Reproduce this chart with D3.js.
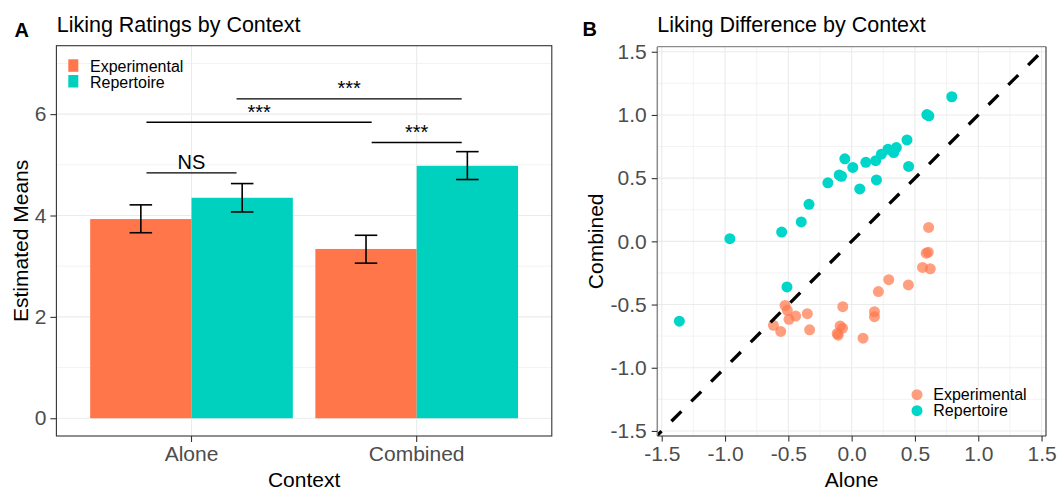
<!DOCTYPE html>
<html>
<head>
<meta charset="utf-8">
<script src="https://cdn.jsdelivr.net/npm/d3@7"></script>
<style>
	body { margin: 0; background: #fff; }
	svg text { font-family: "Liberation Sans", Arial, sans-serif; }
</style>
</head>
<body>
<div id="root"></div>
<script>
const CONTEXTS = ["Alone", "Combined"]
const GROUPS = ["Experimental", "Repertoire"]
const COLOR = { Experimental: "#FF764A", Repertoire: "#00D1BF" }
const POINT_COLOR = { Experimental: "#FF764A", Repertoire: "#00D5C9" }

// panel A: estimated means and error bar ends, one value per context
const expMean = [3.93, 3.34]
const expLow = [3.66, 3.06]
const expHigh = [4.21, 3.61]
const repMean = [4.35, 4.98]
const repLow = [4.07, 4.71]
const repHigh = [4.63, 5.26]
const barTicks = [0, 2, 4, 6]
const barMinor = [1, 3, 5, 7]

// significance brackets (x in category units, 1 = Alone, 2 = Combined)
const sigLabels = ["NS", "***", "***", "***"]
const sigStart = [0.8, 0.8, 1.2, 1.8]
const sigEnd = [1.2, 1.8, 2.2, 2.2]
const sigY = [4.84, 5.84, 6.30, 5.44]

// panel B: liking differences
const expAlone = [0.608, 0.589, 0.605, 0.560, 0.621, 0.293, 0.448, 0.211, 0.180, 0.180, 0.090, -0.070,
	-0.072, -0.091, -0.114, -0.106, -0.350, -0.332, -0.442, -0.495, -0.508, -0.526, -0.560, -0.618]
const expCombined = [0.110, -0.094, -0.086, -0.206, -0.217, -0.303, -0.345, -0.397, -0.557, -0.596, -0.766, -0.517,
	-0.687, -0.669, -0.729, -0.742, -0.572, -0.700, -0.591, -0.617, -0.546, -0.507, -0.713, -0.664]
const repAlone = [-1.361, -0.962, -0.553, -0.511, -0.398, -0.337, -0.188, -0.098, -0.080, -0.054, 0.009, 0.064,
	0.112, 0.190, 0.196, 0.235, 0.287, 0.332, 0.353, 0.437, 0.450, 0.594, 0.610, 0.791]
const repCombined = [-0.632, 0.021, 0.073, -0.361, 0.154, 0.293, 0.463, 0.525, 0.515, 0.653, 0.585, 0.415,
	0.625, 0.638, 0.486, 0.690, 0.729, 0.703, 0.742, 0.802, 0.593, 1.003, 0.993, 1.144]
const diffTicks = [-1.5, -1, -0.5, 0, 0.5, 1, 1.5]
const diffMinor = [-1.25, -0.75, -0.25, 0.25, 0.75, 1.25]

const svg = d3.select('#root')
	.append('svg')
	.attr('width', 1059)
	.attr('height', 489)

createBarPanel({ svg })
createScatterPanel({ svg })

function styleAxis(g, size) {
	g.attr('font-family', null)
		.attr('font-size', size)
		.attr('color', '#333')
	g.select('.domain').remove()
	g.selectAll('.tick text').attr('fill', '#4d4d4d')
	g.selectAll('.tick line').attr('stroke-width', 1.1)
}

function createBarPanel({ svg }) {
	const left = 56.4, right = 551.8, top = 45.7, bottom = 436

	const x = d3.scaleBand()
		.domain(CONTEXTS)
		.range([left, right])
		.paddingInner(0.1)
		.paddingOuter(0.15)
	const xGroup = d3.scaleBand()
		.domain(GROUPS)
		.range([0, x.bandwidth()])
	const y = d3.scaleLinear()
		.domain([-0.35, 7.35])
		.range([bottom, top])
	const half = x.bandwidth() / 2
	const xUnit = d3.scaleLinear()
		.domain([1, 2])
		.range([x(CONTEXTS[0]) + half, x(CONTEXTS[1]) + half])

	const rows = CONTEXTS.flatMap((c, i) => [
		{ context: c, group: "Experimental", mean: expMean[i], low: expLow[i], high: expHigh[i] },
		{ context: c, group: "Repertoire", mean: repMean[i], low: repLow[i], high: repHigh[i] },
	])

	const grid = svg.append('g').attr('stroke', '#ebebeb')
	grid.selectAll('.minor')
		.data(barMinor)
		.enter().append('line')
		.attr('x1', left).attr('x2', right)
		.attr('y1', d => y(d)).attr('y2', d => y(d))
		.attr('stroke-width', 0.6)
	grid.selectAll('.major')
		.data(barTicks)
		.enter().append('line')
		.attr('x1', left).attr('x2', right)
		.attr('y1', d => y(d)).attr('y2', d => y(d))
		.attr('stroke-width', 1.1)
	grid.selectAll('.vmajor')
		.data(CONTEXTS)
		.enter().append('line')
		.attr('x1', d => x(d) + half).attr('x2', d => x(d) + half)
		.attr('y1', top).attr('y2', bottom)
		.attr('stroke-width', 1.1)

	svg.append('g')
		.selectAll('rect')
		.data(rows)
		.enter().append('rect')
		.attr('x', d => x(d.context) + xGroup(d.group))
		.attr('y', d => y(d.mean))
		.attr('width', xGroup.bandwidth())
		.attr('height', d => y(0) - y(d.mean))
		.attr('fill', d => COLOR[d.group])

	// error bars, cap 0.1 category units wide
	const cap = (xUnit(1.05) - xUnit(1))
	const err = svg.append('g')
		.attr('stroke', '#000')
		.attr('stroke-width', 1.6)
		.selectAll('g')
		.data(rows)
		.enter().append('g')
		.attr('transform', d => `translate(${x(d.context) + xGroup(d.group) + xGroup.bandwidth() / 2},0)`)
	err.append('line').attr('y1', d => y(d.low)).attr('y2', d => y(d.high))
	err.append('line').attr('x1', -cap).attr('x2', cap).attr('y1', d => y(d.low)).attr('y2', d => y(d.low))
	err.append('line').attr('x1', -cap).attr('x2', cap).attr('y1', d => y(d.high)).attr('y2', d => y(d.high))

	// significance brackets
	const sig = svg.append('g')
	sigLabels.forEach((label, i) => {
		sig.append('line')
			.attr('x1', xUnit(sigStart[i])).attr('x2', xUnit(sigEnd[i]))
			.attr('y1', y(sigY[i])).attr('y2', y(sigY[i]))
			.attr('stroke', '#000')
			.attr('stroke-width', 1.3)
		sig.append('text')
			.attr('x', xUnit((sigStart[i] + sigEnd[i]) / 2))
			.attr('y', y(sigY[i]) - 3.5)
			.attr('text-anchor', 'middle')
			.style('font-size', '20px')
			.text(label)
	})

	svg.append('rect')
		.attr('x', left).attr('y', top)
		.attr('width', right - left).attr('height', bottom - top)
		.attr('fill', 'none')
		.attr('stroke', '#333')
		.attr('stroke-width', 1.1)

	svg.append('g')
		.attr('transform', `translate(${left},0)`)
		.call(d3.axisLeft(y).tickValues(barTicks).tickSize(6).tickPadding(4))
		.call(g => styleAxis(g, 21))
	svg.append('g')
		.attr('transform', `translate(0,${bottom})`)
		.call(d3.axisBottom(x).tickSize(6).tickPadding(4))
		.call(g => styleAxis(g, 21))

	// legend (inside panel, top left)
	const legend = svg.append('g')
	GROUPS.forEach((grp, i) => {
		legend.append('rect')
			.attr('x', 68.3).attr('y', 59.3 + i * 15.7)
			.attr('width', 10).attr('height', 12.5)
			.attr('fill', COLOR[grp])
		legend.append('text')
			.attr('x', 90).attr('y', 72 + i * 15.5)
			.style('font-size', '16px')
			.text(grp)
	})

	svg.append('text')
		.attr('x', 56.7).attr('y', 31.7)
		.style('font-size', '21.5px')
		.text('Liking Ratings by Context')
	svg.append('text')
		.attr('x', 14.5).attr('y', 36.5)
		.style('font-size', '20px')
		.style('font-weight', 'bold')
		.text('A')
	svg.append('text')
		.attr('x', (left + right) / 2).attr('y', 486.5)
		.attr('text-anchor', 'middle')
		.style('font-size', '21px')
		.text('Context')
	svg.append('text')
		.attr('transform', `translate(28,${(top + bottom) / 2}) rotate(-90)`)
		.attr('text-anchor', 'middle')
		.style('font-size', '21px')
		.text('Estimated Means')
}

function createScatterPanel({ svg }) {
	const left = 657.3, right = 1046, top = 46.7, bottom = 436

	const x = d3.scaleLinear().domain([-1.535, 1.535]).range([left, right])
	const y = d3.scaleLinear().domain([-1.54, 1.54]).range([bottom, top])

	const grid = svg.append('g').attr('stroke', '#ebebeb')
	diffMinor.forEach(v => {
		grid.append('line').attr('x1', left).attr('x2', right).attr('y1', y(v)).attr('y2', y(v)).attr('stroke-width', 0.6)
		grid.append('line').attr('y1', top).attr('y2', bottom).attr('x1', x(v)).attr('x2', x(v)).attr('stroke-width', 0.6)
	})
	diffTicks.forEach(v => {
		grid.append('line').attr('x1', left).attr('x2', right).attr('y1', y(v)).attr('y2', y(v)).attr('stroke-width', 1.1)
		grid.append('line').attr('y1', top).attr('y2', bottom).attr('x1', x(v)).attr('x2', x(v)).attr('stroke-width', 1.1)
	})

	const points = [
		...expAlone.map((a, i) => ({ group: "Experimental", alone: a, combined: expCombined[i] })),
		...repAlone.map((a, i) => ({ group: "Repertoire", alone: a, combined: repCombined[i] })),
	]

	svg.append('g')
		.selectAll('circle')
		.data(points)
		.enter().append('circle')
		.attr('cx', d => x(d.alone))
		.attr('cy', d => y(d.combined))
		.attr('r', 5.5)
		.attr('fill', d => POINT_COLOR[d.group])
		.attr('fill-opacity', d => d.group === "Experimental" ? 0.7 : 1)

	// identity line
	svg.append('defs').append('clipPath')
		.attr('id', 'clipB')
		.append('rect')
		.attr('x', left).attr('y', top)
		.attr('width', right - left).attr('height', bottom - top)
	svg.append('path')
		.attr('clip-path', 'url(#clipB)')
		.attr('d', d3.line().x(d => x(d)).y(d => y(d))(x.domain()))
		.attr('fill', 'none')
		.attr('stroke', '#000')
		.attr('stroke-width', 3.3)
		.attr('stroke-dasharray', '14 14')
		.attr('stroke-dashoffset', 8)

	// panel border
	svg.append('line').attr('x1', left).attr('x2', right).attr('y1', top).attr('y2', top)
		.attr('stroke', '#8a8a8a').attr('stroke-width', 1.3)
	svg.append('line').attr('x1', left).attr('x2', left).attr('y1', top).attr('y2', bottom)
		.attr('stroke', '#8a8a8a').attr('stroke-width', 1.5)
	svg.append('line').attr('x1', right).attr('x2', right).attr('y1', top).attr('y2', bottom)
		.attr('stroke', '#333').attr('stroke-width', 1.1)
	svg.append('line').attr('x1', left).attr('x2', right).attr('y1', bottom).attr('y2', bottom)
		.attr('stroke', '#333').attr('stroke-width', 1.1)

	const fmt = d => d.toFixed(1)
	svg.append('g')
		.attr('transform', `translate(${left},0)`)
		.call(d3.axisLeft(y).tickValues(diffTicks).tickFormat(fmt).tickSize(5.6).tickPadding(5))
		.call(g => styleAxis(g, 21))
	svg.append('g')
		.attr('transform', `translate(0,${bottom})`)
		.call(d3.axisBottom(x).tickValues(diffTicks).tickFormat(fmt).tickSize(5.6).tickPadding(4))
		.call(g => styleAxis(g, 21))

	const legend = svg.append('g')
	GROUPS.forEach((grp, i) => {
		legend.append('circle')
			.attr('cx', 917).attr('cy', 394.7 + i * 16)
			.attr('r', 5.5)
			.attr('fill', POINT_COLOR[grp])
			.attr('fill-opacity', grp === "Experimental" ? 0.7 : 1)
		legend.append('text')
			.attr('x', 933.3).attr('y', 400.3 + i * 15.8)
			.style('font-size', '16px')
			.text(grp)
	})

	svg.append('text')
		.attr('x', 657.3).attr('y', 31.7)
		.style('font-size', '21.5px')
		.text('Liking Difference by Context')
	svg.append('text')
		.attr('x', 582.5).attr('y', 36.2)
		.style('font-size', '20px')
		.style('font-weight', 'bold')
		.text('B')
	svg.append('text')
		.attr('x', (left + right) / 2).attr('y', 486.5)
		.attr('text-anchor', 'middle')
		.style('font-size', '21px')
		.text('Alone')
	svg.append('text')
		.attr('transform', `translate(603,${(top + bottom) / 2}) rotate(-90)`)
		.attr('text-anchor', 'middle')
		.style('font-size', '21px')
		.text('Combined')
}
</script>
</body>
</html>
